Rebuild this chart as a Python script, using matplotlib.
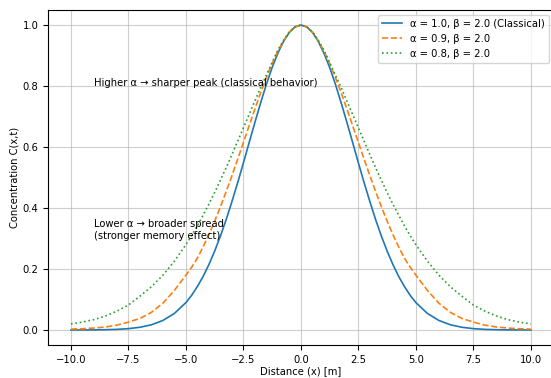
import numpy as np
import matplotlib
matplotlib.use("Agg")
import matplotlib.pyplot as plt

# Distance grid (m): 0.5 steps in the tails, 0.25 steps around the peak
x = np.concatenate([np.arange(-10, -4.9, 0.5),
                    np.arange(-4.75, 4.76, 0.25),
                    np.arange(5, 10.01, 0.5)])

# Concentration values
c_alpha_10 = [0.0001, 0.0002, 0.0004, 0.0010, 0.0021, 0.0045, 0.0090, 0.0172, 0.0314, 0.0545, 0.090,
              0.114, 0.143, 0.176, 0.215, 0.259, 0.308, 0.362, 0.421, 0.483, 0.548,
              0.615, 0.681, 0.745, 0.806, 0.861, 0.908, 0.947, 0.976, 0.994,
              1.000,
              0.994, 0.976, 0.947, 0.908, 0.861, 0.806, 0.745, 0.681, 0.615,
              0.548, 0.483, 0.421, 0.362, 0.308, 0.259, 0.215, 0.176, 0.143, 0.114,
              0.090, 0.0545, 0.0314, 0.0172, 0.0090, 0.0045, 0.0021, 0.0010, 0.0004, 0.0002, 0.0001]
c_alpha_09 = [0.003, 0.0042, 0.0065, 0.0100, 0.0160, 0.026, 0.038, 0.058, 0.088, 0.130, 0.180,
              0.206, 0.236, 0.273, 0.313, 0.357, 0.404, 0.454, 0.506, 0.560, 0.615,
              0.670, 0.725, 0.778, 0.828, 0.874, 0.915, 0.949, 0.977, 0.993,
              1.000,
              0.993, 0.977, 0.949, 0.915, 0.874, 0.828, 0.778, 0.725, 0.670,
              0.615, 0.560, 0.506, 0.454, 0.404, 0.357, 0.313, 0.273, 0.236, 0.206,
              0.180, 0.130, 0.088, 0.058, 0.038, 0.026, 0.0160, 0.0100, 0.0065, 0.0042, 0.003]
c_alpha_08 = [0.020, 0.026, 0.034, 0.046, 0.062, 0.082, 0.111, 0.142, 0.180, 0.226, 0.280,
              0.310, 0.342, 0.377, 0.413, 0.451, 0.491, 0.532, 0.575, 0.619, 0.663,
              0.707, 0.751, 0.795, 0.836, 0.877, 0.918, 0.950, 0.978, 0.994,
              1.000,
              0.994, 0.978, 0.950, 0.918, 0.877, 0.836, 0.795, 0.751, 0.707,
              0.663, 0.619, 0.575, 0.532, 0.491, 0.451, 0.413, 0.377, 0.342, 0.310,
              0.280, 0.226, 0.180, 0.142, 0.111, 0.082, 0.062, 0.046, 0.034, 0.026, 0.020]

labels = ['α = 1.0, β = 2.0 (Classical)', 'α = 0.9, β = 2.0', 'α = 0.8, β = 2.0']

fig = plt.figure(figsize=(5.51, 3.78), dpi=100)
ax = fig.add_axes([0.0871, 0.0866, 0.918, 0.8876])

ax.plot(x, c_alpha_10, '-', color='#1f77b4', lw=1.2, label=labels[0])
ax.plot(x, c_alpha_09, '--', color='#ff7f0e', lw=1.2, label=labels[1])
ax.plot(x, c_alpha_08, ':', color='#2ca02c', lw=1.2, label=labels[2])

ax.set_xlim(-11, 11)
ax.set_ylim(-0.05, 1.05)
ax.set_xticks(np.arange(-10, 10.1, 2.5))
ax.set_yticks(np.arange(0, 1.01, 0.2))
ax.tick_params(labelsize=7.2)
ax.grid(True, alpha=0.6)

ax.set_xlabel('Distance (x) [m]', fontsize=7.2, labelpad=0.5)
ax.set_ylabel('Concentration C(x,t)', fontsize=7.2, labelpad=2)

ax.text(-9, 0.8, 'Higher α → sharper peak (classical behavior)', fontsize=7.2)
ax.text(-9, 0.3, 'Lower α → broader spread\n(stronger memory effect)', fontsize=7.2)

ax.legend(loc='upper right', fontsize=7.2)

fig.savefig('out.png', dpi=100)
